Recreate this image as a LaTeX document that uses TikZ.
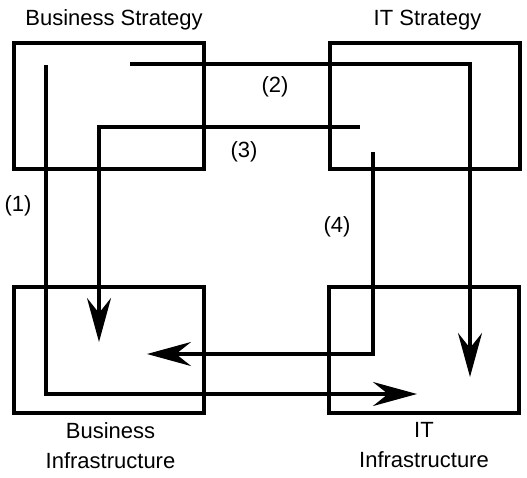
\documentclass[tikz,border=0pt]{standalone}
\usepackage{fontspec}
\setmainfont{Liberation Sans}
\usetikzlibrary{arrows.meta,positioning}

\begin{document}
\begin{tikzpicture}[x=1pt,y=-1pt,
  box/.style={draw,line width=4pt,minimum width=190pt,minimum height=126pt,inner sep=0pt},
  flow/.style={line width=3.5pt,-{Stealth[length=44pt,width=24pt,inset=15pt]}},
  lab/.style={inner sep=0pt,font=\fontsize{22}{30}\selectfont,align=center}]
  \useasboundingbox (0,0) rectangle (527,477);
  % the four domains
  \node[box] (bs)  at (109,106) {};
  \node[box] (its) at (424.5,106) {};
  \node[box] (bi)  at (108.5,350) {};
  \node[box] (iti) at (424,350) {};
  \node[lab,above=11pt of bs,xshift=5pt] (bsl) {Business Strategy};
  \node[lab,above=11pt of its,xshift=3pt] (itsl) {IT Strategy};
  \node[lab,below=7pt of bi,xshift=2pt] (bil) {Business\\Infrastructure};
  \node[lab,below=7pt of iti] (itil) {IT\\Infrastructure};
  % start and end points of the paths
  \foreach \n/\sx/\sy/\tx/\ty in {1/46/65/417/394, 2/130/64/470/377, 3/360/127/99/342, 4/373/152/147/354}{
    \coordinate (s\n) at (\sx,\sy);
    \coordinate (t\n) at (\tx,\ty);
  }
  \draw[flow] (s1) |- (t1);
  \draw[flow] (s2) -| (t2);
  \draw[flow] (s3) -| (t3);
  \draw[flow] (s4) |- (t4);
  \node[lab] (l1) at (18,206) {(1)};
  \node[lab] (l2) at (275,87) {(2)};
  \node[lab] (l3) at (244,152) {(3)};
  \node[lab] (l4) at (337,227) {(4)};
\end{tikzpicture}
\end{document}
